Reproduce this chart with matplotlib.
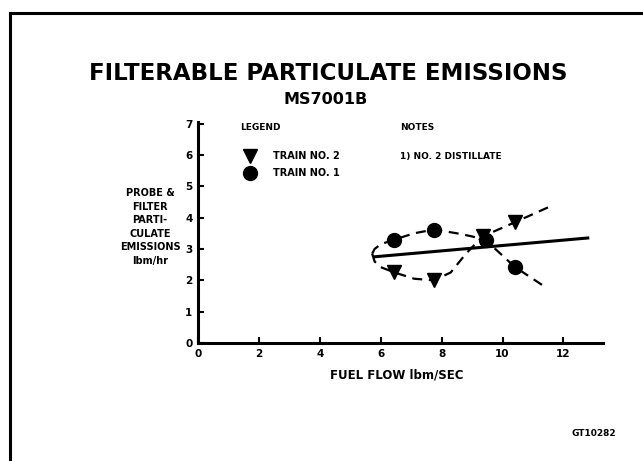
import matplotlib
matplotlib.use("Agg")
import matplotlib.pyplot as plt
from matplotlib.lines import Line2D

# Data
train2_x = [6.45, 7.75, 9.35, 10.4]
train2_y = [2.25, 2.0, 3.4, 3.85]
train1_x = [6.45, 7.75, 9.45, 10.4]
train1_y = [3.3, 3.62, 3.28, 2.43]
# dashed curve shapes (through points, with loop at left and extensions)
curve2_x = [5.72, 5.8, 6.0, 6.45, 7.1, 7.75, 8.3, 8.8, 9.35, 10.4, 11.55]
curve2_y = [2.85, 2.6, 2.42, 2.25, 2.05, 2.0, 2.25, 2.85, 3.4, 3.85, 4.35]
curve1_x = [5.72, 5.8, 6.0, 6.45, 7.1, 7.75, 8.5, 9.0, 9.45, 10.4, 11.35]
curve1_y = [2.85, 3.0, 3.15, 3.3, 3.5, 3.62, 3.5, 3.4, 3.28, 2.43, 1.82]
fit_x = [5.8, 12.8]
fit_y = [2.75, 3.35]
xticks = [0, 2, 4, 6, 8, 10, 12]
yticks = [0, 1, 2, 3, 4, 5, 6, 7]

plt.rcParams['font.family'] = ['DejaVu Sans']
fig = plt.figure(figsize=(6.43, 4.61), dpi=100)

# border lines (left and top)
fig.add_artist(Line2D([10/643, 10/643], [0, 1 - 13/461], transform=fig.transFigure, color='black', lw=2.2))
fig.add_artist(Line2D([10/643, 1], [1 - 13/461, 1 - 13/461], transform=fig.transFigure, color='black', lw=2.2))

ax = fig.add_axes([198/643, (461-343)/461, 405/643, 221/461])
ax.set_xlim(0, 13.3)
ax.set_ylim(0, 7.05)
for s in ['top', 'right']:
    ax.spines[s].set_visible(False)
for s in ['left', 'bottom']:
    ax.spines[s].set_linewidth(2.2)
ax.set_xticks(xticks)
ax.set_yticks(yticks)
ax.tick_params(direction='in', length=4, width=1.5, labelsize=7.5, pad=4)
for lab in ax.get_xticklabels() + ax.get_yticklabels():
    lab.set_fontweight('bold')

ax.plot(curve2_x, curve2_y, color='black', lw=1.6, ls=(0, (4.5, 3)))
ax.plot(curve1_x, curve1_y, color='black', lw=1.6, ls=(0, (4.5, 3)))
ax.plot(fit_x, fit_y, color='black', lw=2.2)
ax.plot(train2_x, train2_y, ls='none', marker='v', ms=10, color='black')
ax.plot(train1_x, train1_y, ls='none', marker='o', ms=10, color='black')

# legend
fig.text(240/643, 1 - 128/461, 'LEGEND', fontsize=6.5, fontweight='bold', va='center')
fig.add_artist(Line2D([250/643], [1 - 156/461], marker='v', ms=10, color='black', transform=fig.transFigure))
fig.add_artist(Line2D([250/643], [1 - 173/461], marker='o', ms=10, color='black', transform=fig.transFigure))
fig.text(273/643, 1 - 156/461, 'TRAIN NO. 2', fontsize=7, fontweight='bold', va='center')
fig.text(273/643, 1 - 173/461, 'TRAIN NO. 1', fontsize=7, fontweight='bold', va='center')
fig.text(400/643, 1 - 128/461, 'NOTES', fontsize=6.5, fontweight='bold', va='center')
fig.text(400/643, 1 - 156/461, '1) NO. 2 DISTILLATE', fontsize=6.5, fontweight='bold', va='center')

# titles
fig.text(328/643, 1 - 73/461, 'FILTERABLE PARTICULATE EMISSIONS', fontsize=16.5, fontweight='bold', ha='center', va='center')
fig.text(326/643, 1 - 99/461, 'MS7001B', fontsize=11.5, fontweight='bold', ha='center', va='center')

fig.text(150/643, 1 - 227/461, 'PROBE &\nFILTER\nPARTI-\nCULATE\nEMISSIONS\nlbm/hr',
         fontsize=7, fontweight='bold', ha='center', va='center', linespacing=1.45)
fig.text(397/643, 1 - 375/461, 'FUEL FLOW lbm/SEC', fontsize=8.5, fontweight='bold', ha='center', va='center')
fig.text(594/643, 1 - 433/461, 'GT10282', fontsize=6.5, fontweight='bold', ha='center', va='center')

fig.savefig('out.png', dpi=100)
